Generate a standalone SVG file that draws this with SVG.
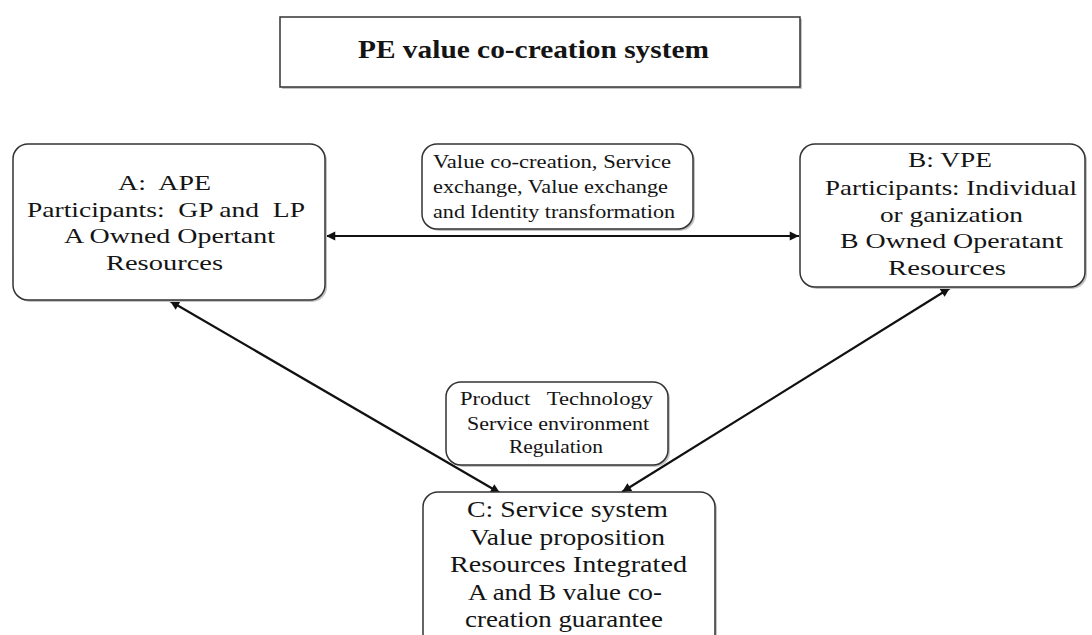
<svg xmlns="http://www.w3.org/2000/svg" width="1092" height="635" viewBox="0 0 1092 635">
<style>
.box{fill:#fff;stroke:#333;stroke-width:1.5}
.shadow{fill:#c4c4c4}
.t{font-family:"Liberation Serif","Times New Roman",serif;fill:#141414;white-space:pre}
.big{font-size:22px}
.c{font-size:23px}
.lbl{font-size:19.5px}
.title{font-size:25px;font-weight:bold}
.conn{stroke:#111;stroke-width:2.2;fill:none;marker-start:url(#ah);marker-end:url(#ah)}
</style>
<defs>
<marker id="ah" viewBox="0 0 10 10" refX="10" refY="5" markerWidth="8.5" markerHeight="4.2" orient="auto-start-reverse" markerUnits="strokeWidth">
<path d="M0,0 L10,5 L0,10 z" fill="#111"/>
</marker>
</defs>
<rect width="1092" height="635" fill="#fff"/>
<g id="title">
<rect class="shadow" x="282" y="19" width="520" height="70"/>
<rect class="box" x="280" y="17" width="520" height="70"/>
<text class="t title" x="358" y="58" textLength="351" lengthAdjust="spacingAndGlyphs">PE value co-creation system</text>
</g>
<g id="connectors">
<line class="conn" x1="326" y1="236" x2="799" y2="236"/>
<line class="conn" x1="170" y1="301" x2="500" y2="493"/>
<line class="conn" x1="950" y1="288" x2="622" y2="492"/>
</g>
<g id="nodeA">
<rect class="shadow" x="15" y="146" width="312" height="156" rx="15"/>
<rect class="box" x="13" y="144" width="312" height="156" rx="15"/>
<text class="t big" x="118" y="190" textLength="93" lengthAdjust="spacingAndGlyphs">A:  APE</text>
<text class="t big" x="27" y="217" textLength="278" lengthAdjust="spacingAndGlyphs">Participants:  GP and  LP</text>
<text class="t big" x="64" y="243" textLength="211" lengthAdjust="spacingAndGlyphs">A Owned Opertant</text>
<text class="t big" x="106" y="270" textLength="117" lengthAdjust="spacingAndGlyphs">Resources</text>
</g>
<g id="labelTop">
<rect class="shadow" x="424" y="146" width="271" height="85" rx="15"/>
<rect class="box" x="422" y="144" width="271" height="85" rx="15"/>
<text class="t lbl" x="433" y="168" textLength="238" lengthAdjust="spacingAndGlyphs">Value co-creation, Service</text>
<text class="t lbl" x="433" y="193" textLength="235" lengthAdjust="spacingAndGlyphs">exchange, Value exchange</text>
<text class="t lbl" x="433" y="218" textLength="242" lengthAdjust="spacingAndGlyphs">and Identity transformation</text>
</g>
<g id="nodeB">
<rect class="shadow" x="802" y="146" width="285" height="143" rx="15"/>
<rect class="box" x="800" y="144" width="285" height="143" rx="15"/>
<text class="t big" x="908" y="167" textLength="84" lengthAdjust="spacingAndGlyphs">B: VPE</text>
<text class="t big" x="825" y="195" textLength="252" lengthAdjust="spacingAndGlyphs">Participants: Individual</text>
<text class="t big" x="880" y="222" textLength="143" lengthAdjust="spacingAndGlyphs">or ganization</text>
<text class="t big" x="840" y="248" textLength="223" lengthAdjust="spacingAndGlyphs">B Owned Operatant</text>
<text class="t big" x="888" y="275" textLength="118" lengthAdjust="spacingAndGlyphs">Resources</text>
</g>
<g id="labelBottom">
<rect class="shadow" x="448" y="384" width="222" height="83" rx="15"/>
<rect class="box" x="446" y="382" width="222" height="83" rx="15"/>
<text class="t lbl" x="460" y="405" textLength="193" lengthAdjust="spacingAndGlyphs">Product   Technology</text>
<text class="t lbl" x="467" y="430" textLength="182" lengthAdjust="spacingAndGlyphs">Service environment</text>
<text class="t lbl" x="509" y="453" textLength="94" lengthAdjust="spacingAndGlyphs">Regulation</text>
</g>
<g id="nodeC">
<rect class="shadow" x="425" y="494" width="292" height="160" rx="15"/>
<rect class="box" x="423" y="492" width="292" height="160" rx="15"/>
<text class="t c" x="467" y="517" textLength="201" lengthAdjust="spacingAndGlyphs">C: Service system</text>
<text class="t c" x="470" y="545" textLength="195" lengthAdjust="spacingAndGlyphs">Value proposition</text>
<text class="t c" x="450" y="572" textLength="237" lengthAdjust="spacingAndGlyphs">Resources Integrated</text>
<text class="t c" x="468" y="600" textLength="194" lengthAdjust="spacingAndGlyphs">A and B value co-</text>
<text class="t c" x="465" y="627" textLength="198" lengthAdjust="spacingAndGlyphs">creation guarantee</text>
</g>
</svg>
